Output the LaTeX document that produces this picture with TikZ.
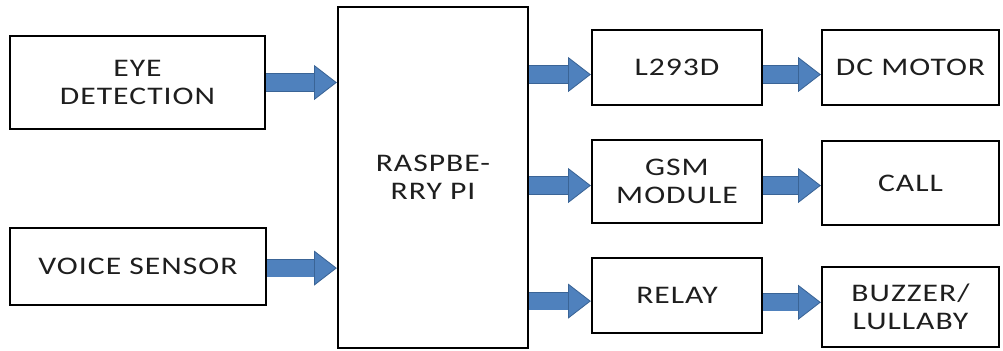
\documentclass[tikz,border=0pt]{standalone}
\usepackage{fontspec}
\usetikzlibrary{arrows.meta}
\newfontfamily\blkfont[FakeStretch=1.25, LetterSpace=4]{Carlito}
\definecolor{arrowblue}{HTML}{4F81BD}
\definecolor{arrowedge}{HTML}{3A6496}
\definecolor{textgray}{HTML}{1E1E1E}
\tikzset{
	blk/.style={draw, line width=1.6pt, fill=white, align=center, text=textgray, inner sep=0pt,
		font=\blkfont\fontsize{18}{20}\selectfont},
	flow/.style={line width=0.425cm, draw=arrowblue,
		-{Triangle[length=0.57cm, width=0.875cm, fill=arrowblue, color=arrowedge, line width=0.6pt]},
		preaction={draw=arrowedge, line width=0.455cm, -, shorten >=0.5cm}}
}
\begin{document}
\begin{tikzpicture}[x=0.025cm, y=-0.025cm]
		\useasboundingbox (0,0) rectangle (1003,350);
		
		% Входы
		\node[blk, minimum width=6.375cm, minimum height=2.325cm] (eye) at (137.5,82.5) {EYE\\DETECTION};
		\node[blk, minimum width=6.4cm, minimum height=1.925cm] (voice) at (138,266.5) {VOICE SENSOR};
		
		% Контроллер
		\node[blk, minimum width=4.75cm, minimum height=8.525cm] (rpi) at (433,177.5) {RASPBE-\\RRY PI};
		
		% Промежуточные блоки
		\node[blk, minimum width=4.25cm, minimum height=1.875cm] (driver) at (677,67.5) {L293D};
		\node[blk, minimum width=4.25cm, minimum height=2.075cm] (gsm) at (677,181.5) {GSM\\MODULE};
		\node[blk, minimum width=4.25cm, minimum height=1.875cm] (relay) at (677,295.5) {RELAY};
		
		% Выходы
		\node[blk, minimum width=4.425cm, minimum height=1.875cm] (motor) at (910.5,67.5) {DC MOTOR};
		\node[blk, minimum width=4.425cm, minimum height=2.1cm] (call) at (910.5,183) {CALL};
		\node[blk, minimum width=4.425cm, minimum height=2cm] (buzzer) at (910.5,307) {BUZZER/\\LULLABY};
		
		% Стрелки
		\draw[flow] (eye.east) -- (eye.east -| rpi.west);
		\draw[flow] ([yshift=-0.04cm]voice.east) -- ([yshift=-0.04cm]voice.east -| rpi.west);
		
		\draw[flow] ([yshift=-0.175cm]driver.west -| rpi.east) -- ([yshift=-0.175cm]driver.west);
		\draw[flow] ([yshift=-0.1cm]gsm.west -| rpi.east) -- ([yshift=-0.1cm]gsm.west);
		\draw[flow] ([yshift=-0.14cm]relay.west -| rpi.east) -- ([yshift=-0.14cm]relay.west);
		
		\draw[flow] ([yshift=-0.175cm]driver.east) -- ([yshift=-0.175cm]driver.east -| motor.west);
		\draw[flow] ([yshift=-0.1cm]gsm.east) -- ([yshift=-0.1cm]gsm.east -| call.west);
		\draw[flow] ([yshift=-0.17cm]relay.east) -- ([yshift=-0.17cm]relay.east -| buzzer.west);
	\end{tikzpicture}
\end{document}
